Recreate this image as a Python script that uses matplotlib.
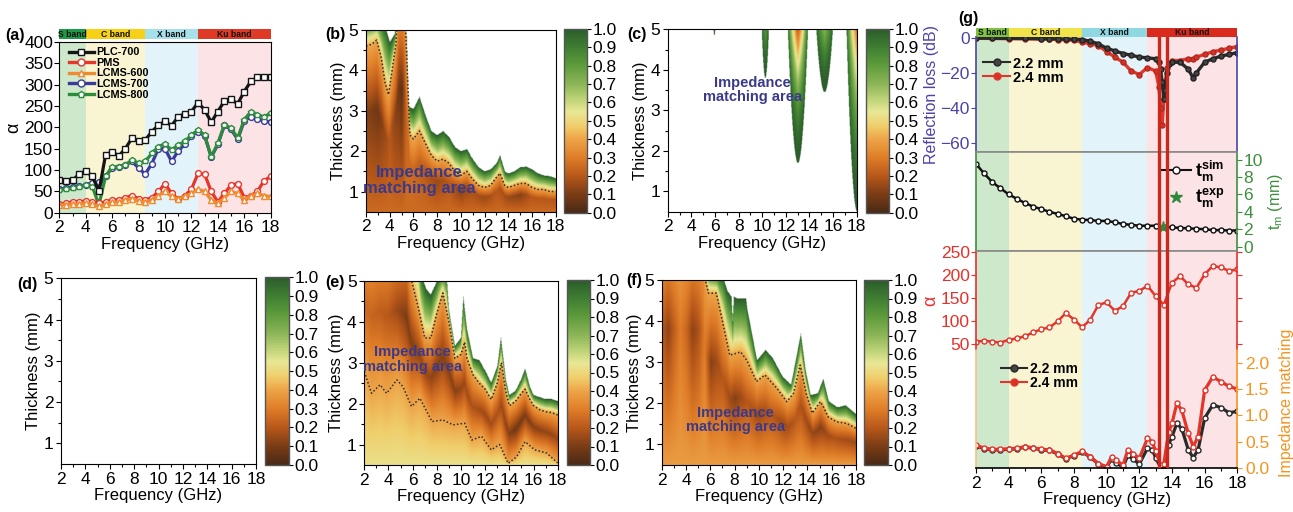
import numpy as np
import matplotlib
matplotlib.use('Agg')
import matplotlib.pyplot as plt
from matplotlib.colors import LinearSegmentedColormap
from matplotlib.lines import Line2D
from matplotlib.cm import ScalarMappable
from matplotlib.colors import Normalize

plt.rcParams['font.family'] = ['Liberation Sans', 'DejaVu Sans']
plt.rcParams['mathtext.fontset'] = 'custom'
plt.rcParams['mathtext.rm'] = 'Liberation Sans'
plt.rcParams['mathtext.it'] = 'Liberation Sans:italic'
plt.rcParams['mathtext.bf'] = 'Liberation Sans:bold'
plt.rcParams['axes.unicode_minus'] = True
plt.rcParams['xtick.direction'] = 'out'
plt.rcParams['ytick.direction'] = 'out'

# ---------------- data ----------------
bands = ['S band', 'C band', 'X band', 'Ku band']
band_edges = [2, 4, 8.5, 12.5, 18]

# (a) attenuation constant
fa = np.arange(2, 18.01, 0.5)
a_plc700 = [77, 75, 76, 90, 98, 85, 50, 135, 143, 133, 150, 175, 167, 170, 190, 205, 214,
            204, 225, 232, 237, 258, 241, 212, 237, 262, 266, 255, 284, 308, 317, 319, 319]
a_pms = [20, 22, 25, 26, 27, 24, 22, 25, 30, 30, 35, 40, 33, 30, 35, 50, 68,
         45, 32, 40, 55, 92, 90, 50, 25, 45, 65, 68, 35, 40, 50, 75, 85]
a_lcms600 = [18, 19, 20, 21, 22, 20, 15, 20, 25, 25, 30, 33, 28, 25, 30, 40, 50,
             38, 32, 38, 45, 55, 50, 30, 22, 35, 50, 45, 30, 40, 45, 40, 38]
a_lcms700 = [55, 57, 60, 62, 65, 70, 72, 85, 105, 107, 112, 120, 105, 90, 115, 150, 150,
             120, 145, 160, 180, 190, 180, 130, 160, 205, 195, 172, 215, 225, 220, 215, 212]
a_lcms800 = [53, 55, 57, 60, 65, 61, 18, 85, 108, 108, 112, 124, 116, 120, 139, 155, 161,
             147, 159, 167, 182, 194, 182, 131, 163, 206, 198, 175, 218, 237, 229, 225, 233]

# (b) PMS map: white edge (value 1), dotted contour, darkest value below it
b_edge_f = [2, 3, 3.6, 4, 4.4, 4.6, 4.75, 5.25, 5.4, 5.6, 6, 6.5, 7, 7.5, 8, 8.5, 9, 9.5, 10,
            10.5, 11, 11.5, 12, 12.5, 13, 13.3, 13.7, 14, 14.5, 15, 15.5, 16, 16.5, 17, 17.5, 18]
b_edge_t = [5.3, 5.4, 5.1, 4.7, 4.9, 5.3, 6.0, 6.0, 5.2, 3.1, 3.05, 3.35, 2.9, 2.5, 2.4, 2.5, 2.35,
            2.1, 2.0, 2.05, 1.8, 1.6, 1.5, 1.55, 1.7, 1.9, 1.5, 1.45, 1.5, 1.6, 1.62, 1.55, 1.45,
            1.4, 1.38, 1.33]
b_dot_f = [2, 2.5, 2.9, 3.3, 3.6, 3.9, 4.2, 4.5, 4.75, 5.25, 5.4, 5.7, 6, 6.5, 7, 7.5, 8, 8.5, 9,
           9.5, 10, 10.5, 11, 11.5, 12, 12.5, 13, 13.3, 13.7, 14, 14.5, 15, 15.5, 16, 16.5, 17,
           17.5, 18]
b_dot_t = [4.6, 4.65, 4.75, 4.3, 3.7, 3.4, 4.0, 4.6, 5.6, 5.6, 4.6, 2.4, 2.3, 2.5, 2.2, 1.9, 1.75,
           1.8, 1.7, 1.5, 1.4, 1.5, 1.3, 1.15, 1.1, 1.15, 1.35, 1.45, 1.15, 1.1, 1.15, 1.2, 1.2,
           1.1, 1.05, 1.05, 1.0, 1.0]
b_core_f = [2, 3, 4, 4.5, 5, 5.4, 6, 7, 8, 9, 10, 11, 12, 13, 14, 15, 16, 18]
b_core_v = [0.12, 0.08, 0.2, 0.12, 0.04, 0.25, 0.25, 0.2, 0.15, 0.2, 0.12, 0.18, 0.15, 0.2,
            0.15, 0.12, 0.2, 0.2]

# (c) LCMS-600 map: narrow matching spikes
c_spike_f = [5.9, 10.2, 12.95, 15.2, 17.95]
c_spike_bot = [4.85, 3.8, 1.7, 3.45, 0.5]
c_spike_hw = [0.08, 0.3, 0.85, 0.7, 0.9]
c_spike_min = [0.9, 0.8, 0.2, 0.7, 0.25]

# (e) LCMS-700 map
e_edge_f = [2, 6.4, 6.7, 7.1, 7.5, 7.9, 8.3, 8.8, 9.0, 9.5, 10.0, 10.2, 10.5, 11, 11.5, 12, 12.5,
            13, 13.3, 13.7, 14, 14.5, 15, 15.3, 15.7, 16, 16.5, 17, 17.5, 18]
e_edge_t = [6.5, 6.5, 5.2, 4.8, 4.65, 4.9, 5.2, 5.2, 4.3, 3.4, 3.6, 4.6, 3.8, 3.1, 3.05, 2.8, 2.5,
            2.9, 3.6, 2.6, 2.2, 2.3, 2.6, 2.85, 2.4, 2.2, 2.15, 2.1, 2.1, 2.05]
e_dot_up_f = [2, 5.5, 5.8, 6.0, 6.5, 7.0, 7.5, 8.0, 8.5, 9.0, 9.5, 10.0, 10.3, 10.5, 11, 11.5, 12,
              12.5, 13, 13.35, 13.7, 14, 14.5, 15, 15.3, 15.7, 16, 16.5, 17, 17.5, 18]
e_dot_up_t = [6.0, 6.0, 5.2, 4.9, 4.3, 3.6, 3.6, 4.2, 4.7, 4.0, 3.1, 3.2, 3.5, 3.1, 2.7, 2.5, 2.35,
              2.1, 2.5, 3.0, 2.3, 1.95, 2.05, 2.25, 2.35, 2.1, 1.95, 1.85, 1.8, 1.78, 1.72]
e_dot_lo_f = [2, 2.6, 3.3, 3.85, 4.7, 5.2, 5.9, 6.6, 7.6, 8.5, 9.35, 10.3, 10.9, 11.7, 12.5, 13.2,
              13.9, 14.6, 15.3, 16.1, 17.1, 18]
e_dot_lo_t = [2.78, 2.25, 2.46, 2.25, 2.58, 2.41, 1.93, 2.13, 1.56, 1.6, 1.48, 1.52, 1.11, 1.2,
              0.87, 1.0, 0.54, 0.7, 1.07, 0.87, 0.79, 0.55]
e_core_f = [2, 4, 5.5, 7, 8, 9.5, 11, 12, 13, 14.5, 16, 18]
e_core_v = [0.25, 0.2, 0.1, 0.15, 0.12, 0.12, 0.18, 0.15, 0.18, 0.08, 0.12, 0.15]

# (f) LCMS-800 map
f_edge_f = [2, 5.5, 5.7, 7.0, 7.35, 7.7, 7.8, 7.9, 8.2, 8.9, 9.0, 9.8, 10.5, 11.1, 11.9, 12.6,
            13.4, 13.8, 14.2, 14.8, 15.25, 15.7, 16.4, 17.1, 18]
f_edge_t = [6.5, 6.5, 5.3, 5.1, 4.75, 4.6, 4.0, 4.6, 4.55, 4.55, 4.3, 3.05, 3.3, 3.1, 2.65, 2.45,
            3.7, 2.8, 2.2, 2.24, 2.6, 2.05, 1.9, 1.95, 1.72]
f_dot_f = [2, 5.4, 5.6, 5.85, 6.5, 7.1, 7.6, 8.5, 9.0, 9.8, 10.5, 11.5, 12.3, 12.85, 13.4, 13.9,
           14.4, 15.05, 15.3, 15.7, 16.4, 17.25, 18]
f_dot_t = [6.0, 6.0, 5.0, 4.68, 4.68, 3.86, 3.17, 3.25, 3.05, 2.53, 2.69, 2.36, 2.04, 2.24, 2.93,
           2.24, 1.76, 2.04, 1.92, 1.67, 1.55, 1.51, 1.39]
f_core_f = [2, 2.5, 3, 3.5, 4, 4.5, 5, 5.5, 6, 7, 8, 9, 10, 11, 12, 13, 14, 15, 16, 18]
f_core_v = [0.2, 0.13, 0.22, 0.3, 0.24, 0.13, 0.18, 0.3, 0.12, 0.2, 0.12, 0.2, 0.15, 0.2,
            0.15, 0.2, 0.15, 0.12, 0.18, 0.15]

# (g) LCMS-800 at 2.2 / 2.4 mm
g_rl_f = [2, 3, 4, 5, 6, 6.5, 7, 7.5, 8, 8.5, 9, 9.5, 10, 10.5, 11, 11.5, 12, 12.5, 13, 13.2,
          13.3, 13.4, 13.5, 13.6, 13.7, 13.8, 14, 14.5, 15, 15.3, 15.5, 16, 16.5, 17, 17.5, 18]
g_rl_22 = [-0.2, -0.3, -0.4, -0.4, -0.5, -0.5, -0.6, -0.7, -0.8, -1.0, -2.0, -3.5, -6.0, -7.5,
           -9.0, -10.0, -11.0, -11.5, -12.0, -14.0, -18.0, -25.0, -35.0, -30.0, -20.0, -15.0,
           -14.0, -14.0, -18.0, -23.0, -20.0, -14.0, -12.0, -10.5, -9.5, -8.5]
g_rl_24 = [-0.3, -0.4, -0.5, -0.6, -0.8, -0.9, -1.0, -1.2, -1.5, -2.5, -3.5, -4.5, -8.0, -11.0,
           -14.0, -19.0, -21.0, -17.0, -19.0, -28.0, -40.0, -50.0, -35.0, -25.0, -17.0, -15.0,
           -13.0, -13.0, -12.0, -12.0, -11.0, -9.5, -8.0, -7.0, -6.0, -5.0]
g_f = np.arange(2, 18.01, 0.5)
g_tm_sim = [9.5, 8.4, 7.4, 6.7, 6.0, 5.5, 5.0, 4.6, 4.3, 4.0, 3.75, 3.5, 3.2, 3.1, 3.05, 2.95,
            2.95, 2.8, 2.6, 2.5, 2.4, 2.4, 2.4, 2.3, 2.2, 2.15, 2.1, 2.05, 2.0, 1.9, 1.9, 1.85, 1.85]
g_tm_exp_f = [13.45]
g_tm_exp = [2.3]
g_alpha = [55, 57, 55, 53, 59, 62, 67, 75, 82, 86, 99, 117, 103, 86, 103, 135, 140, 122, 132,
           161, 165, 176, 154, 135, 183, 197, 179, 172, 201, 219, 216, 208, 212]
g_im_f = [2, 2.5, 3, 3.5, 4, 4.5, 5, 5.5, 6, 6.5, 7, 7.5, 8, 8.5, 9, 9.5, 10, 10.3, 10.6, 11,
          11.3, 11.6, 12, 12.5, 12.8, 13, 13.3, 13.5, 13.8, 14, 14.3, 14.6, 15, 15.3, 15.6, 16,
          16.5, 17, 17.5, 18]
g_im_22 = [0.43, 0.37, 0.35, 0.35, 0.36, 0.37, 0.40, 0.38, 0.35, 0.34, 0.27, 0.18, 0.24, 0.31,
           0.21, 0.08, 0.02, 0.18, 0.10, 0.02, 0.25, 0.18, 0.08, 0.38, 0.35, 0.20, 0.02, 0.05,
           0.45, 0.60, 0.85, 0.75, 0.35, 0.20, 0.35, 0.95, 1.20, 1.15, 1.05, 1.08]
g_im_24 = [0.44, 0.38, 0.36, 0.36, 0.37, 0.38, 0.41, 0.39, 0.36, 0.35, 0.28, 0.19, 0.25, 0.32,
           0.22, 0.09, 0.03, 0.22, 0.15, 0.06, 0.35, 0.28, 0.19, 0.57, 0.50, 0.32, 0.06, 0.09,
           0.69, 0.85, 1.23, 1.10, 0.66, 0.41, 0.60, 1.48, 1.73, 1.64, 1.55, 1.50]
g_marks = [13.2, 13.68]

# ---------------- styles ----------------
W, H = 1293, 512
fig = plt.figure(figsize=(W / 100, H / 100), dpi=100)

cmap = LinearSegmentedColormap.from_list('imp', [
    (0.0, '#4a2a16'), (0.1, '#7a3c15'), (0.2, '#b8581a'), (0.3, '#df7d28'),
    (0.4, '#eda448'), (0.47, '#f0cd6a'), (0.55, '#e8e796'), (0.62, '#bcd276'),
    (0.7, '#8db558'), (0.8, '#5f9c3c'), (0.9, '#3f7f32'), (1.0, '#2c5c2c')])
cmap.set_over('white')

shade_a = ['#cde8ca', '#f9f5d2', '#e2f3f9', '#fce3e6']
bar_a = ['#1f9a46', '#f7d117', '#a6e0ea', '#de3a26']
bar_g = ['#7fc241', '#f1e34c', '#8fd8e2', '#d92a1e']
txt_blue = '#3a3a8c'
TK = 12.5
LB = 12


def px_axes(l, t, r, b):
    return fig.add_axes([l / W, 1 - b / H, (r - l) / W, (b - t) / H])


def shade(ax):
    for i in range(4):
        ax.axvspan(band_edges[i], band_edges[i + 1], color=shade_a[i], lw=0, zorder=0)


def band_bar(ax, cols):
    for i in range(4):
        ax.axvspan(band_edges[i], band_edges[i + 1], color=cols[i], lw=0)
        ax.text((band_edges[i] + band_edges[i + 1]) / 2, 0.45, bands[i], ha='center',
                va='center', fontsize=6.2, fontweight='bold', color='#111')
    ax.set_xlim(2, 18)
    ax.set_ylim(0, 1)
    ax.axis('off')


def freq_axis(ax, label=True):
    ax.set_xlim(2, 18)
    ax.set_xticks(range(2, 19, 2))
    ax.set_xticks(range(3, 18, 2), minor=True)
    ax.tick_params(labelsize=TK, length=3.5, width=0.8, pad=2)
    ax.tick_params(which='minor', length=2, width=0.8)
    if label:
        ax.set_xlabel('Frequency (GHz)', fontsize=LB, labelpad=1)


fg = np.linspace(2, 18, 481)
tg = np.linspace(0.5, 5, 271)


def layered_field(edge_f, edge_t, dot_f, dot_t, base, core_f, core_v, lo_f=None, lo_t=None):
    z = np.zeros((len(tg), len(fg)))
    e = np.interp(fg, edge_f, edge_t)
    d = np.interp(fg, dot_f, dot_t)
    cv = np.interp(fg, core_f, core_v)
    lo = np.interp(fg, lo_f, lo_t) if lo_f is not None else None
    for j in range(len(fg)):
        ej = max(e[j], d[j] + 0.05)
        if lo is None:
            kt = [0.5, 0.5 + 0.6 * (d[j] - 0.5), d[j], ej, ej + 0.02]
            kv = [base, cv[j], 0.4, 1.0, 1.5]
        else:
            kt = [0.49, lo[j], (lo[j] + d[j]) / 2, d[j], ej, ej + 0.02]
            kv = [base, 0.4, cv[j], 0.4, 1.0, 1.5]
        z[:, j] = np.interp(tg, kt, kv)
    return z


def spike_field():
    F, T = np.meshgrid(fg, tg)
    z = np.full(F.shape, 1.5)
    for c, bot, hw, vmin in zip(c_spike_f, c_spike_bot, c_spike_hw, c_spike_min):
        s = np.clip((T - bot) / (5 - bot), 0, 1)
        w = np.maximum(hw * np.sqrt(s), 1e-6)
        d = np.abs(F - c) / w
        inside = (d < 1) & (T > bot)
        val = 1 - (1 - vmin) * (1 - d) ** 0.8 * s ** 1.8
        z = np.where(inside, np.minimum(z, val), z)
    return z


def map_panel(axbox, cbox, z, letter, lpos, text=None, tpos=None, tsize=11):
    ax = px_axes(*axbox)
    cax = px_axes(*cbox)
    im = ax.imshow(z, extent=[2, 18, 0.5, 5], origin='lower', aspect='auto', cmap=cmap,
                   vmin=0, vmax=1, interpolation='bilinear') if z is not None else None
    freq_axis(ax)
    ax.set_ylim(0.5, 5)
    ax.set_yticks([1, 2, 3, 4, 5])
    ax.set_yticks([1.5, 2.5, 3.5, 4.5], minor=True)
    ax.set_ylabel('Thickness (mm)', fontsize=LB, labelpad=2)
    for s in ax.spines.values():
        s.set_linewidth(0.8)
    sm = im if im is not None else ScalarMappable(norm=Normalize(0, 1), cmap=cmap)
    cb = fig.colorbar(sm, cax=cax)
    cb.set_ticks(np.arange(0, 1.01, 0.1))
    cb.ax.set_yticklabels(['%.1f' % v for v in np.arange(0, 1.01, 0.1)])
    cb.ax.tick_params(labelsize=TK, length=3, width=0.8, pad=1)
    cb.outline.set_edgecolor('#555555')
    cb.outline.set_linewidth(1.0)
    fig.text(lpos[0] / W, 1 - lpos[1] / H, letter, fontsize=11.5, fontweight='bold',
             va='center')
    if text:
        ax.text(tpos[0], tpos[1], text, ha='center', va='center', fontsize=tsize,
                fontweight='bold', color=txt_blue, linespacing=1.05)
    return ax


dot_kw = dict(color='#2b2b2b', lw=1.1, ls=(0, (1, 1.4)))

# ---------------- (a) ----------------
ax_a = px_axes(59.3, 42, 270.7, 212.7)
band_bar(px_axes(59.3, 29, 270.7, 39.3), bar_a)
shade(ax_a)
ms = 4.2
for ys, mk, col in [(a_lcms700, 'o', '#3a3a9a'), (a_lcms800, 'p', '#2e8b3e'),
                    (a_pms, 'o', '#e8352a'), (a_lcms600, '^', '#f08a30'),
                    (a_plc700, 's', '#151515')]:
    ax_a.plot(fa, ys, '-' + mk, color=col, mfc='white', mec=col, ms=ms, lw=2.3, mew=1.0)
freq_axis(ax_a)
ax_a.set_ylim(0, 400)
ax_a.set_yticks(range(0, 401, 50))
ax_a.tick_params(axis='y', pad=1)
ax_a.set_ylabel('α', fontsize=13, labelpad=1)
handles_a = [
    Line2D([], [], color='#151515', marker='s', mfc='white', ms=5, lw=2.4, label='PLC-700'),
    Line2D([], [], color='#e8352a', marker='o', mfc='white', ms=5, lw=2.4, label='PMS'),
    Line2D([], [], color='#f08a30', marker='^', mfc='white', ms=5, lw=2.4, label='LCMS-600'),
    Line2D([], [], color='#3a3a9a', marker='o', mfc='white', ms=5, lw=2.4, label='LCMS-700'),
    Line2D([], [], color='#2e8b3e', marker='p', mfc='white', ms=5, lw=2.4, label='LCMS-800')]
ax_a.legend(handles=handles_a, loc='upper left', bbox_to_anchor=(0.04, 0.975), frameon=False,
            prop=dict(weight='bold', size=7.8), handlelength=2.3, handletextpad=0.25,
            labelspacing=0.05, borderpad=0.1, borderaxespad=0)
fig.text(5 / W, 1 - 35.5 / H, '(a)', fontsize=11.5, fontweight='bold', va='center')

# ---------------- (b) (c) (d) (e) (f) ----------------
zb = layered_field(b_edge_f, b_edge_t, b_dot_f, b_dot_t, 0.25, b_core_f, b_core_v)
ax_b = map_panel((366, 30, 555.7, 211.7), (564, 29, 586.7, 212.7), zb, '(b)', (325, 35),
                 'Impedance\nmatching area', (6.5, 1.28), 12)
ax_b.plot(b_dot_f, b_dot_t, **dot_kw)
ax_b.set_ylim(0.5, 5)

zc = spike_field()
map_panel((667.7, 29.3, 856.7, 211.7), (865.7, 29, 889.3, 212.7), zc, '(c)', (627, 35),
          'Impedance\nmatching area', (9.2, 3.5), 10.5)

map_panel((61, 278.3, 256, 464), (265, 277.3, 289.3, 465), None, '(d)', (17, 285))

ze = layered_field(e_edge_f, e_edge_t, e_dot_up_f, e_dot_up_t, 0.53, e_core_f, e_core_v,
                   lo_f=e_dot_lo_f, lo_t=e_dot_lo_t)
ax_e = map_panel((364.3, 280.7, 557.7, 465), (566.7, 280, 590, 465), ze, '(e)', (325, 282),
                 'Impedance\nmatching area', (6.0, 3.07), 10.5)
ax_e.plot(e_dot_up_f, e_dot_up_t, **dot_kw)
ax_e.plot(e_dot_lo_f, e_dot_lo_t, **dot_kw)
ax_e.set_ylim(0.5, 5)

zf = layered_field(f_edge_f, f_edge_t, f_dot_f, f_dot_t, 0.38, f_core_f, f_core_v)
ax_f = map_panel((661.7, 280, 856, 465), (864, 280, 888.3, 465), zf, '(f)', (626, 281),
                 'Impedance\nmatching area', (8.05, 1.6), 10.5)
ax_f.plot(f_dot_f, f_dot_t, **dot_kw)
ax_f.set_ylim(0.5, 5)

# ---------------- (g) ----------------
gx0, gx1 = 976, 1237.3
band_bar(px_axes(gx0, 28.3, gx1, 36.7), bar_g)
ax_rl = px_axes(gx0, 36.7, gx1, 151.7)
ax_tm = px_axes(gx0, 151.7, gx1, 251)
ax_al = px_axes(gx0, 251, gx1, 350)
ax_im = px_axes(gx0, 350, gx1, 468.3)
c_blue, c_green, c_red, c_orange, c_gray = '#4b44a8', '#3c8f3c', '#e8302a', '#f7931e', '#8a8a8a'
for ax in (ax_rl, ax_tm, ax_al, ax_im):
    shade(ax)
    ax.set_xlim(2, 18)
    ax.set_facecolor('none')
    for s in ax.spines.values():
        s.set_linewidth(1.2)
for ax in (ax_rl, ax_tm, ax_al):
    ax.set_xticks([])

ax_rl.plot(g_rl_f, g_rl_24, '-o', color='#e2362b', mfc='#d83227', mec='#b02a20', ms=3.6, lw=2.4)
ax_rl.plot(g_rl_f, g_rl_22, '-o', color='#2a2a2a', mfc='#444444', mec='#222222', ms=3.6, lw=2.4)
ax_rl.set_ylim(-65.1, 0.6)
ax_rl.set_yticks([0, -20, -40, -60])
ax_rl.tick_params(axis='y', colors=c_blue, labelsize=TK, length=3.5, pad=1)
ax_rl.set_ylabel('Reflection loss (dB)', color=c_blue, fontsize=11.5, labelpad=1)
ax_rl.spines['left'].set_color(c_blue)
ax_rl.spines['right'].set_color(c_blue)
ax_rl.spines['top'].set_visible(False)
ax_rl.spines['bottom'].set_color(c_gray)
h_rl = [Line2D([], [], color='#2a2a2a', marker='o', mfc='#444444', ms=5, lw=1.5, label='2.2 mm'),
        Line2D([], [], color='#e2362b', marker='o', mfc='#d83227', ms=5, lw=1.5, label='2.4 mm')]
ax_rl.legend(handles=h_rl, loc='upper left', bbox_to_anchor=(0.02, 0.84), frameon=False,
             prop=dict(weight='bold', size=10.5), handlelength=1.9, handletextpad=0.2,
             labelspacing=0.0, borderpad=0.1, borderaxespad=0)

ax_tm.plot(g_f, g_tm_sim, '-o', color='#111111', mfc='white', mec='#111111', ms=3.6, lw=1.8,
           mew=1.0)
ax_tm.plot(g_tm_exp_f, g_tm_exp, '*', color='#2e8b3e', ms=8)
ax_tm.set_ylim(-0.5, 10.9)
ax_tm.yaxis.tick_right()
ax_tm.yaxis.set_label_position('right')
ax_tm.set_yticks(range(0, 11, 2))
ax_tm.tick_params(axis='y', colors=c_green, labelsize=TK, length=3.5, pad=1)
ax_tm.set_ylabel(r'$\mathregular{t_m}$ (mm)', color=c_green, fontsize=11.5, labelpad=2)
ax_tm.spines['left'].set_color(c_green)
ax_tm.spines['right'].set_color(c_green)
ax_tm.spines['top'].set_color(c_gray)
ax_tm.spines['bottom'].set_color(c_gray)
h_tm = [Line2D([], [], color='#111111', marker='o', mfc='white', ms=5, lw=1.5,
               label=r'$\mathbf{t_m^{sim}}$'),
        Line2D([], [], color='#2e8b3e', marker='*', ms=9, lw=0, label=r'$\mathbf{t_m^{exp}}$')]
ax_tm.legend(handles=h_tm, loc='upper left', bbox_to_anchor=(0.7, 0.95), frameon=False,
             prop=dict(size=13), handlelength=1.7, handletextpad=0.2, labelspacing=0.2,
             borderpad=0.1, borderaxespad=0)

ax_al.plot(g_f, g_alpha, '-o', color='#e2362b', mfc='white', mec='#e2362b', ms=3.6, lw=1.8,
           mew=1.0)
ax_al.set_ylim(37, 251.5)
ax_al.set_yticks(range(50, 251, 50))
ax_al.tick_params(axis='y', colors=c_red, labelsize=TK, length=3.5, right=True, pad=1)
ax_al.set_ylabel('α', color=c_red, fontsize=13, labelpad=1)
ax_al.spines['left'].set_color(c_red)
ax_al.spines['right'].set_color(c_red)
ax_al.spines['top'].set_color(c_gray)
ax_al.spines['bottom'].set_visible(False)

ax_im.plot(g_im_f, g_im_22, '-o', color='#2a2a2a', mfc='white', mec='#2a2a2a', ms=3.6, lw=2.3,
           mew=1.0)
ax_im.plot(g_im_f, g_im_24, '-o', color='#e2362b', mfc='white', mec='#e2362b', ms=3.6, lw=2.3,
           mew=1.0)
ax_im.set_ylim(0, 2.24)
ax_im.yaxis.tick_right()
ax_im.yaxis.set_label_position('right')
ax_im.set_yticks([0, 0.5, 1.0, 1.5, 2.0])
ax_im.set_yticklabels(['0.0', '0.5', '1.0', '1.5', '2.0'])
ax_im.tick_params(axis='y', colors=c_orange, labelsize=TK, length=3.5, pad=1)
ax_im.set_ylabel('Impedance matching', color=c_orange, fontsize=11.5)
ax_im.yaxis.set_label_coords(1.16, 0.55)
ax_im.spines['left'].set_color('#f5c08a')
ax_im.spines['right'].set_color(c_orange)
ax_im.spines['top'].set_visible(False)
freq_axis(ax_im)
h_im = [Line2D([], [], color='#2a2a2a', marker='o', mfc='#444444', ms=5, lw=1.5, label='2.2 mm'),
        Line2D([], [], color='#e2362b', marker='o', mfc='#d83227', ms=5, lw=1.5, label='2.4 mm')]
ax_im.legend(handles=h_im, loc='upper left', bbox_to_anchor=(0.09, 0.91), frameon=False,
             prop=dict(weight='bold', size=10), handlelength=1.9, handletextpad=0.2,
             labelspacing=0.0, borderpad=0.1, borderaxespad=0)

ax_ov = px_axes(gx0, 36.7, gx1, 468.3)
ax_ov.set_xlim(2, 18)
ax_ov.axis('off')
for m in g_marks:
    ax_ov.axvline(m, color='#c8281e', lw=2.4)
fig.text(958 / W, 1 - 18 / H, '(g)', fontsize=11.5, fontweight='bold', va='center')

fig.savefig('out.png', dpi=100)
